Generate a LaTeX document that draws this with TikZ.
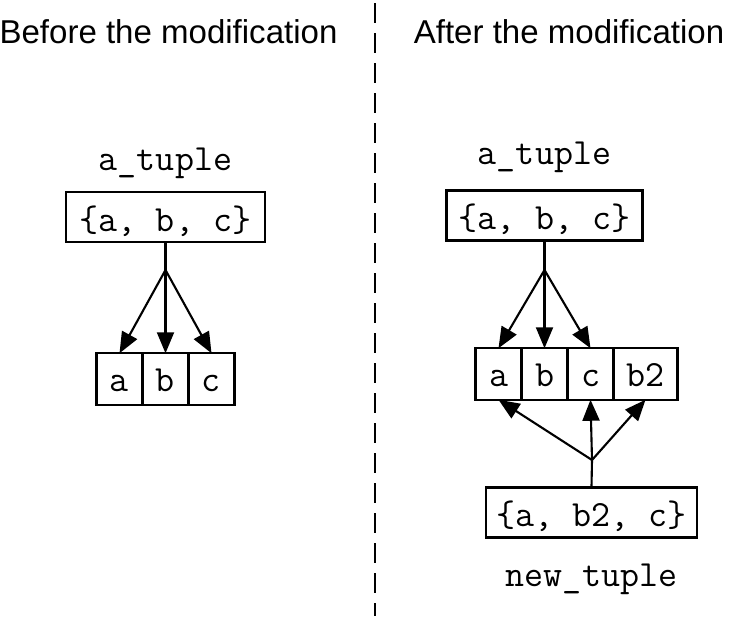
\documentclass[tikz,border=0pt]{standalone}
\usepackage{fontspec}
\setmainfont{Liberation Sans}
\usetikzlibrary{positioning,arrows.meta}

\begin{document}
\begin{tikzpicture}[every node/.style={font=\ttfamily\fontsize{21}{24}\selectfont}]
		% Styles
		\tikzstyle{title_text} = [font=\rmfamily\fontsize{18.8}{22}\selectfont, anchor=base, inner sep=0pt]
		\tikzstyle{var_label} = [anchor=base, inner sep=0pt]
		\tikzstyle{tuple_box} = [draw=black, line width=1.2pt, minimum height=1cm, text height=0.78cm, text depth=0.22cm, inner sep=0pt]
		\tikzstyle{cell_box} = [draw=black, line width=1.2pt, minimum width=0.92cm, minimum height=1.03cm, text height=0.77cm, text depth=0.26cm, inner sep=0pt, outer sep=0pt]
		\tikzstyle{link_line} = [line width=1.2pt]
		\tikzstyle{ref_arrow} = [link_line, -{Triangle[length=0.42cm, width=0.34cm]}]

		% Column X positions
		\def\colleft{3.31}
		\def\colright{10.89}

		\useasboundingbox (0,0) rectangle (14.58,-12.32);

		% Titles
		\node[title_text] (before) at (3.37,-0.866) {Before the modification};
		\node[title_text] (after) at (11.38,-0.866) {After the modification};

		% Divider
		\draw[link_line, dash pattern=on 0.4cm off 0.2cm] (7.5,-0.06) -- (7.5,-12.32);

		% Left side: a_tuple before
		\node[var_label] (l_name) at (\colleft,-3.4) {a\_tuple};
		\node[tuple_box, minimum width=3.98cm] (l_tuple) at (\colleft,-4.34) {\{a, b, c\}};
		\node[cell_box] (l_b) at (\colleft,-7.58) {b};
		\node[cell_box, left=0pt of l_b] (l_a) {a};
		\node[cell_box, right=0pt of l_b] (l_c) {c};

		\coordinate (l_split) at (\colleft,-5.4);
		\draw[link_line] (l_tuple.south) -- (l_split);
		\foreach \cell in {l_a, l_b, l_c}
			\draw[ref_arrow] (l_split) -- (\cell.north);

		% Right side: a_tuple and new_tuple after
		\node[var_label] (r_name) at (\colright,-3.28) {a\_tuple};
		\node[tuple_box, minimum width=3.92cm] (r_tuple) at (\colright,-4.31) {\{a, b, c\}};
		\node[cell_box] (r_b) at (\colright,-7.48) {b};
		\node[cell_box, left=0pt of r_b] (r_a) {a};
		\node[cell_box, right=0pt of r_b] (r_c) {c};
		\node[cell_box, right=0pt of r_c, minimum width=1.28cm] (r_b2) {b2};

		\coordinate (r_split) at (\colright,-5.4);
		\draw[link_line] (r_tuple.south) -- (r_split);
		\foreach \cell in {r_a, r_b, r_c}
			\draw[ref_arrow] (r_split) -- (\cell.north);

		\node[tuple_box, minimum width=4.23cm] (new_tuple) at (11.83,-10.25) {\{a, b2, c\}};
		\node[var_label] (new_name) at (11.83,-11.73) {new\_tuple};

		\coordinate (new_split) at (11.84,-9.2);
		\draw[link_line] (new_tuple.north) -- (new_split);
		\foreach \cell in {r_a, r_c, r_b2}
			\draw[ref_arrow] (new_split) -- (\cell.south);

	\end{tikzpicture}
\end{document}
